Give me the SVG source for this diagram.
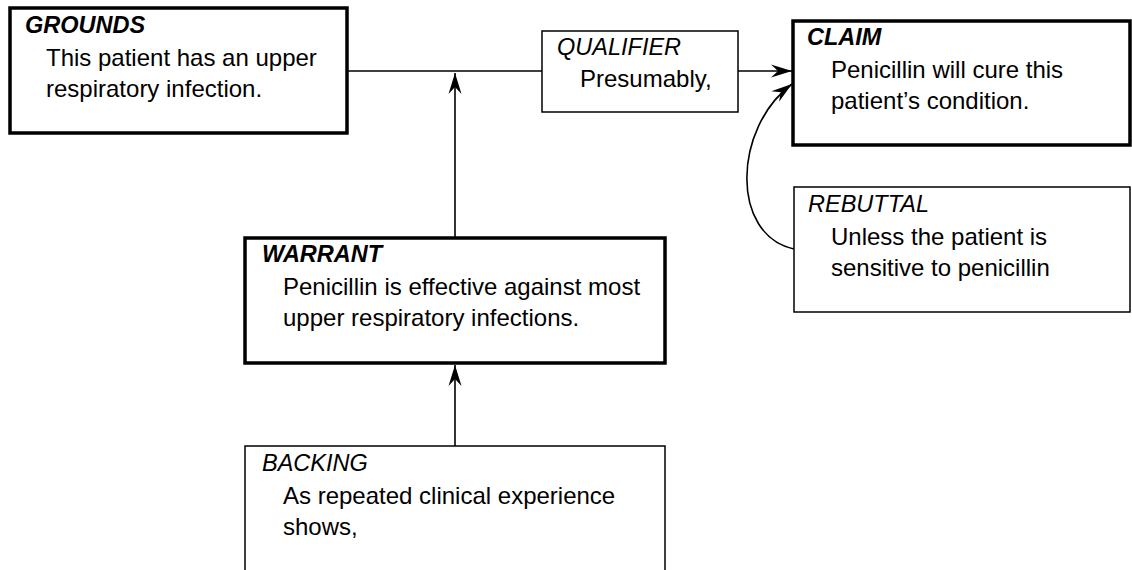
<svg xmlns="http://www.w3.org/2000/svg" width="1132" height="570" viewBox="0 0 1132 570">
<style>
.thick{fill:#fff;stroke:#000;stroke-width:3.5}
.thin{fill:#fff;stroke:#000;stroke-width:1.5}
.lbl{font-family:"Liberation Sans",Arial,sans-serif;font-size:23.5px;font-style:italic;fill:#000}
.b{font-weight:bold}
.body{font-family:"Liberation Sans",Arial,sans-serif;font-size:24px;fill:#000}
.con{fill:none;stroke:#000;stroke-width:1.6}
</style>
<defs>
<marker id="ah" viewBox="-22 -8 24 16" refX="0" refY="0" markerWidth="24" markerHeight="16" markerUnits="userSpaceOnUse" orient="auto">
<path d="M0,0 L-21,-6.5 L-14,0 L-21,6.5 Z" fill="#000"/>
</marker>
</defs>
<g id="connectors">
<line class="con" x1="347" y1="71" x2="542" y2="71"/>
<line class="con" x1="738" y1="71" x2="792" y2="71" marker-end="url(#ah)"/>
<line class="con" x1="455" y1="238" x2="455" y2="73" marker-end="url(#ah)"/>
<line class="con" x1="455" y1="446" x2="455" y2="365" marker-end="url(#ah)"/>
<path class="con" d="M794,249 C730,235 733,128 792,84" marker-end="url(#ah)"/>
</g>
<g id="grounds">
<rect class="thick" x="10" y="8" width="337" height="125"/>
<text class="lbl b" x="25" y="33">GROUNDS</text>
<text class="body" x="46" y="66">This patient has an upper</text>
<text class="body" x="46" y="97">respiratory infection.</text>
</g>
<g id="qualifier">
<rect class="thin" x="542" y="31" width="196" height="81"/>
<text class="lbl" x="557" y="55">QUALIFIER</text>
<text class="body" x="580" y="87">Presumably,</text>
</g>
<g id="claim">
<rect class="thick" x="793" y="21" width="337" height="124"/>
<text class="lbl b" x="807" y="45">CLAIM</text>
<text class="body" x="831" y="78">Penicillin will cure this</text>
<text class="body" x="831" y="109">patient’s condition.</text>
</g>
<g id="rebuttal">
<rect class="thin" x="794" y="187" width="336" height="125"/>
<text class="lbl" x="808" y="212">REBUTTAL</text>
<text class="body" x="831" y="245">Unless the patient is</text>
<text class="body" x="831" y="276">sensitive to penicillin</text>
</g>
<g id="warrant">
<rect class="thick" x="245" y="238" width="420" height="125"/>
<text class="lbl b" x="262" y="262">WARRANT</text>
<text class="body" x="283" y="295">Penicillin is effective against most</text>
<text class="body" x="283" y="326">upper respiratory infections.</text>
</g>
<g id="backing">
<rect class="thin" x="245" y="446" width="420" height="140"/>
<text class="lbl" x="262" y="471">BACKING</text>
<text class="body" x="283" y="504">As repeated clinical experience</text>
<text class="body" x="283" y="535">shows,</text>
</g>
</svg>
